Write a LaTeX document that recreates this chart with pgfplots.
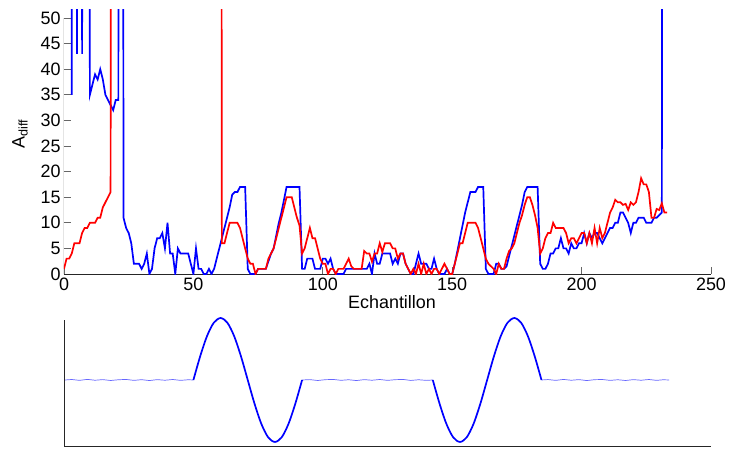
\documentclass[border=0pt]{standalone}
\usepackage{fontspec}
\setmainfont{Liberation Sans}
\usepackage{pgfplots}
\pgfplotsset{compat=1.18}
\begin{document}
\begin{tikzpicture}[font=\fontsize{18}{21.5}\selectfont]
\path[use as bounding box] (-64bp,-175bp) rectangle (665bp,274bp);
\begin{axis}[
  at={(0,0)}, anchor=south west,
  scale only axis, width=647bp, height=264bp,
  xmin=0, xmax=250, ymin=0, ymax=51.56,
  axis x line=bottom, axis y line=left,
  axis line style={-},
  y axis line style={draw=none},
  x axis line style={-, black!85, line width=1bp},
  xtick={0,50,...,250}, ytick={0,5,...,50},
  tick align=inside, major tick length=7bp,
  tick style={black!60, line width=0.8bp},
  /pgf/number format/assume math mode=true,
  xlabel={Echantillon}, ylabel={A\textsubscript{diff}},
  xlabel style={at={(axis description cs:0.507,-0.105)}, anchor=center},
  ylabel style={at={(axis description cs:-0.068,0.53)}, anchor=center},
]
\addplot[blue, line width=1.7bp] coordinates {
(0,500)(1,500)(2,500)(3,35)(4,500)(5,43)(6,500)(7,43)(8,500)(9,500)
(10,35)(11,37)(12,39)(13,38)(14,40)(15,38)(16,35)(17,34)(18,33)(19,32)
(20,34)(21,34)(22,500)(23,11)(24,9)(25,8)(26,6)(27,2)(28,2)(29,2)
(30,1)(31,2)(32,4)(33,0)(34,1)(35,5)(36,7)(37,7)(38,8)(39,5)
(40,10)(41,4)(42,4)(43,0)(44,5)(45,4)(46,4)(47,4)(48,4)(49,2)
(50,0)(51,5)(52,1)(53,1)(54,0)(55,0)(56,1)(57,0)(58,1)(59,3)
(60,5)(61,7)(62,9)(63,11)(64,13)(65,15.5)(66,16)(67,16)(68,17)(69,17)
(70,17)(71,1)(72,0)(73,0)(74,0)(75,1)(76,1)(77,1)(78,1)(79,2.5)
(80,4)(81,5)(82,7.5)(83,10)(84,12)(85,14.5)(86,17)(87,17)(88,17)(89,17)
(90,17)(91,17)(92,1)(93,1)(94,3)(95,3)(96,3)(97,1)(98,1)(99,1)
(100,3)(101,3)(102,2)(103,3)(104,1)(105,0)(106,0)(107,0)(108,0)(109,1)
(110,1)(111,1)(112,1)(113,1)(114,1)(115,1)(116,1)(117,1)(118,2)(119,0)
(120,4)(121,2)(122,2)(123,4)(124,4)(125,4)(126,4)(127,2)(128,3)(129,2)
(130,4)(131,4)(132,2)(133,1)(134,0)(135,0)(136,2)(137,4)(138,2)(139,2)
(140,2)(141,1)(142,1)(143,3)(144,1)(145,0)(146,0)(147,0)(148,1)(149,0)
(150,0)(151,2)(152,4.5)(153,7)(154,9.5)(155,12)(156,14)(157,16)(158,16)(159,16)
(160,17)(161,17)(162,17)(163,1)(164,0)(165,0)(166,0)(167,2)(168,2)(169,1)
(170,1)(171,1.5)(172,3.5)(173,5.5)(174,7.5)(175,9.5)(176,11.5)(177,13.5)(178,16)(179,17)
(180,17)(181,17)(182,17)(183,17)(184,2)(185,1)(186,1)(187,2)(188,4)(189,4)
(190,5)(191,5)(192,7)(193,5)(194,5)(195,4)(196,6)(197,5)(198,5)(199,6)
(200,6)(201,8)(202,6)(203,8)(204,7)(205,8)(206,8)(207,7)(208,6)(209,7)
(210,8)(211,9)(212,9)(213,10)(214,10)(215,12)(216,12)(217,11)(218,10)(219,8)
(220,10)(221,10)(222,11)(223,11)(224,11)(225,10)(226,10)(227,10)(228,11)(229,11)
(230,11.5)(231,12)(232,500)
};
\addplot[red, line width=1.7bp] coordinates {
(0,1)(1,3)(2,3)(3,4)(4,6)(5,6)(6,6)(7,8)(8,9)(9,9)
(10,10)(11,10)(12,10)(13,11)(14,11)(15,13)(16,14)(17,15)(18,16)(19,500)
(60,500)(61,6)(62,6)(63,8)(64,10)(65,10)(66,10)(67,10)(68,9)(69,7)
(70,5)(71,3)(72,2)(73,2)(74,0)(75,1)(76,1)(77,1)(78,1)(79,3)
(80,4)(81,5)(82,7)(83,9)(84,11)(85,13)(86,15)(87,15)(88,15)(89,13)
(90,11)(91,9.5)(92,4)(93,5)(94,7)(95,9)(96,7)(97,7)(98,5)(99,3)
(100,2)(101,2)(102,0)(103,1)(104,1)(105,0)(106,1)(107,1)(108,1)(109,2)
(110,3)(111,1.5)(112,1)(113,1)(114,1)(115,1)(116,4.5)(117,4)(118,4)(119,2.4)
(120,4)(121,4)(122,6)(123,4.3)(124,6)(125,6)(126,6)(127,5)(128,5)(129,3)
(130,4)(131,4)(132,2)(133,1)(134,0)(135,1)(136,0)(137,2)(138,0)(139,2)
(140,0)(141,1)(142,0)(143,1)(144,1)(145,0)(146,1)(147,2)(148,1)(149,0)
(150,0)(151,2)(152,4)(153,6)(154,6)(155,8)(156,10)(157,10)(158,10)(159,10)
(160,9)(161,7)(162,5)(163,3)(164,2)(165,1.5)(166,1)(167,0)(168,2)(169,1)
(170,1)(171,3)(172,4.5)(173,5)(174,6)(175,8)(176,10)(177,11.5)(178,13.5)(179,15)
(180,15)(181,13.5)(182,11.5)(183,9)(184,4)(185,5)(186,7)(187,8)(188,8)(189,10)
(190,9)(191,9)(192,9)(193,9)(194,8)(195,6)(196,7)(197,7)(198,6)(199,7)
(200,8)(201,8)(202,6)(203,8)(204,6)(205,9)(206,6)(207,9)(208,7)(209,8)
(210,10)(211,12)(212,13)(213,14.5)(214,14)(215,14)(216,13.5)(217,13.7)(218,12.5)(219,14)
(220,13.5)(221,14)(222,16)(223,18.7)(224,17.5)(225,17.5)(226,16)(227,11)(228,11)(229,12.7)
(230,12.5)(231,13.8)(232,12)(233,12)
};
\draw[black!85, line width=1bp] (axis cs:0,0) -- (axis cs:0,50);
\end{axis}
\begin{axis}[
  at={(0,-172bp)}, anchor=south west,
  scale only axis, width=647bp, height=126bp,
  xmin=0, xmax=250, ymin=-1.065, ymax=0.968,
  axis x line=bottom, axis y line=left,
  axis line style={-, black!85, line width=1bp},
  xtick=\empty, ytick=\empty, clip=false,
]
\addplot[blue!60, line width=0.7bp] coordinates {
(0.4,0)(3,0.008)(6,-0.006)(9,0.01)(12,-0.004)(15,0.006)(18,-0.008)(21,0.004)(24,0.009)(27,-0.006)
(30,0.005)(33,-0.009)(36,0.006)(39,-0.004)(42,0.008)(45,-0.006)(48,0.004)(50,0)
};
\addplot[blue!60, line width=0.7bp] coordinates {
(92,0)(95,0.006)(98,-0.008)(101,0.005)(104,0.009)(107,-0.005)(110,0.004)(113,-0.009)(116,0.006)(119,-0.004)
(122,0.008)(125,-0.006)(128,0.005)(131,0.009)(134,-0.007)(137,0.004)(140,-0.006)(142.5,0)
};
\addplot[blue!60, line width=0.7bp] coordinates {
(184.5,0)(187,0.007)(190,-0.006)(193,0.009)(196,-0.004)(199,0.006)(202,-0.009)(205,0.005)(208,0.008)(211,-0.006)
(214,0.004)(217,-0.008)(220,0.006)(223,-0.004)(226,0.008)(229,-0.006)(231.5,0.004)(233.8,0)
};
\addplot[blue, line width=1.7bp, smooth] coordinates {
(50,0)(52.625,0.383)(55.25,0.707)(57.875,0.924)(60.5,1)(63.125,0.924)(65.75,0.707)(68.375,0.383)
(71,0)(73.625,-0.383)(76.25,-0.707)(78.875,-0.924)(81.5,-1)(84.125,-0.924)(86.75,-0.707)(89.375,-0.383)(92,0)
};
\addplot[blue, line width=1.7bp, smooth] coordinates {
(142.5,0)(145.125,-0.383)(147.75,-0.707)(150.375,-0.924)(153,-1)(155.625,-0.924)(158.25,-0.707)(160.875,-0.383)
(163.5,0)(166.125,0.383)(168.75,0.707)(171.375,0.924)(174,1)(176.625,0.924)(179.25,0.707)(181.875,0.383)(184.5,0)
};
\end{axis}
\end{tikzpicture}
\end{document}
